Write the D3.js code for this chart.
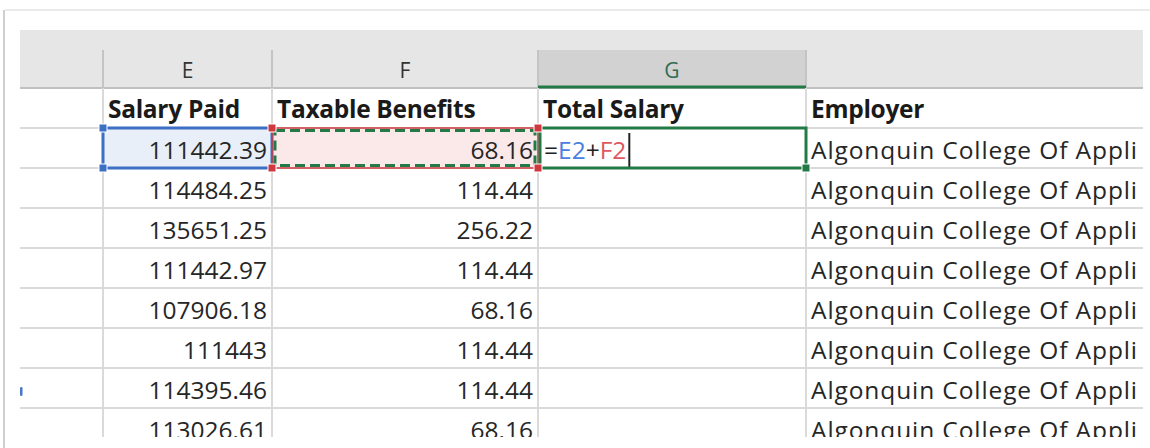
<!DOCTYPE html>
<html lang="en">
<head>
<meta charset="utf-8">
<title>Salary sheet</title>
<script src="https://cdn.jsdelivr.net/npm/d3@7"></script>
<style>
  body { margin: 0; background: #fff; }
  svg { display: block; font-family: "Open Sans", Lato, sans-serif; }
  .hdr { font-weight: bold; }
</style>
</head>
<body>
<script>
// sheet contents
var columnLetters = ["", "E", "F", "G", ""];
var headers = ["Salary Paid", "Taxable Benefits", "Total Salary", "Employer"];
var salaryPaid = [111442.39, 114484.25, 135651.25, 111442.97, 107906.18, 111443, 114395.46, 113026.61];
var taxableBenefits = [68.16, 114.44, 256.22, 114.44, 68.16, 114.44, 114.44, 68.16];
var employer = "Algonquin College Of Appli";
var formulaParts = ["=", "E2", "+", "F2"];

var W = 1150, H = 448;
var colKeys = ["row", "E", "F", "G", "H"];
var colWidths = [83, 169, 266, 268, 337];
var edges = [20].concat(Array.from(d3.cumsum(colWidths), function(d) { return d + 20; }));

var x = d3.scaleOrdinal().domain(colKeys).range(edges);
function xr(k) { return edges[colKeys.indexOf(k) + 1]; }
var y = d3.scaleBand().domain(d3.range(9)).range([88, 448]);
var headTop = 50, headBottom = 88, clipBottom = 437, right = xr("H");
var fs = 24.5;

var grid = "#dadada", ink = "#262626";
var blue = "#3d6fc4", red = "#d0383f", green = "#237a47";

var svg = d3.select("body").append("svg").attr("width", W).attr("height", H);

// window frame
svg.append("line").attr("x1", 5).attr("x2", W).attr("y1", 10).attr("y2", 10)
  .attr("stroke", "#ebebeb").attr("stroke-width", 2);
svg.append("line").attr("x1", 4).attr("x2", 4).attr("y1", 10).attr("y2", H)
  .attr("stroke", "#cfcfcf").attr("stroke-width", 2);

svg.append("clipPath").attr("id", "sheet").append("rect")
  .attr("x", 20).attr("y", 0).attr("width", right - 20).attr("height", clipBottom);
var g = svg.append("g").attr("clip-path", "url(#sheet)");

// column header band
g.append("rect").attr("x", 20).attr("y", 30).attr("width", right - 20).attr("height", headBottom - 30)
  .attr("fill", "#e6e6e6");
g.append("rect").attr("x", x("G")).attr("y", headTop).attr("width", xr("G") - x("G")).attr("height", headBottom - headTop)
  .attr("fill", "#d2d2d2");
g.selectAll(".csep").data(colKeys.slice(1)).enter().append("line")
  .attr("x1", function(d) { return x(d); }).attr("x2", function(d) { return x(d); })
  .attr("y1", headTop).attr("y2", headBottom)
  .attr("stroke", "#c4c4c4").attr("stroke-width", 2);
g.append("line").attr("x1", 20).attr("x2", right).attr("y1", headBottom).attr("y2", headBottom)
  .attr("stroke", "#c0c0c0").attr("stroke-width", 2);
g.append("line").attr("x1", x("G")).attr("x2", xr("G")).attr("y1", headBottom - 1).attr("y2", headBottom - 1)
  .attr("stroke", green).attr("stroke-width", 3);
g.selectAll(".clet").data(colKeys).enter().append("text")
  .attr("x", function(d, i) { return (x(d) + xr(d)) / 2; })
  .attr("y", 78).attr("text-anchor", "middle")
  .attr("font-size", 21).attr("fill", function(d) { return d === "G" ? "#2f6b55" : "#333"; })
  .text(function(d, i) { return columnLetters[i]; });

// selection fills
var r2 = y(1), rh = y.bandwidth();
g.append("rect").attr("x", x("E")).attr("y", r2).attr("width", xr("E") - x("E")).attr("height", rh).attr("fill", "#e8eff9");
g.append("rect").attr("x", x("F")).attr("y", r2).attr("width", xr("F") - x("F")).attr("height", rh).attr("fill", "#fbe8e8");

// gridlines
g.selectAll(".hline").data(d3.range(1, 9)).enter().append("line")
  .attr("x1", 20).attr("x2", right)
  .attr("y1", function(d) { return y(d); })
  .attr("y2", function(d) { return y(d); })
  .attr("stroke", grid).attr("stroke-width", 2);
g.selectAll(".vline").data(["E", "F", "G", "H"]).enter().append("line")
  .attr("x1", function(d) { return x(d); }).attr("x2", function(d) { return x(d); })
  .attr("y1", headBottom).attr("y2", clipBottom)
  .attr("stroke", grid).attr("stroke-width", 2);

// header row
var hdrKeys = ["E", "F", "G", "H"];
g.selectAll(".hdr").data(headers).enter().append("text").attr("class", "hdr")
  .attr("x", function(d, i) { return x(hdrKeys[i]) + 5; })
  .attr("y", y(0) + 30).attr("font-size", fs).attr("fill", "#1a1a1a")
  .attr("letter-spacing", -0.3)
  .text(function(d) { return d; });

// values
g.selectAll(".sal").data(salaryPaid).enter().append("text")
  .attr("x", xr("E") - 5).attr("y", function(d, i) { return y(i + 1) + 31; })
  .attr("text-anchor", "end").attr("font-size", fs).attr("fill", ink)
  .text(function(d) { return String(d); });
g.selectAll(".ben").data(taxableBenefits).enter().append("text")
  .attr("x", xr("F") - 5).attr("y", function(d, i) { return y(i + 1) + 31; })
  .attr("text-anchor", "end").attr("font-size", fs).attr("fill", ink)
  .text(function(d) { return String(d); });
g.selectAll(".emp").data(salaryPaid).enter().append("text")
  .attr("x", x("H") + 5).attr("y", function(d, i) { return y(i + 1) + 31; })
  .attr("font-size", fs).attr("fill", ink).attr("letter-spacing", 0.9)
  .text(employer);

// formula being typed in G2
var ft = g.append("text").attr("x", x("G") + 6).attr("y", r2 + 31).attr("font-size", fs);
var fColors = ["#222", "#4a80e0", "#222", "#e0575f"];
ft.selectAll("tspan").data(formulaParts).enter().append("tspan")
  .attr("fill", function(d, i) { return fColors[i]; })
  .text(function(d) { return d; });
var fw = ft.node().getComputedTextLength();
g.append("line").attr("x1", x("G") + 9 + fw).attr("x2", x("G") + 9 + fw)
  .attr("y1", r2 + 5).attr("y2", r2 + rh).attr("stroke", "#222").attr("stroke-width", 2);

// E2 range outline (blue)
g.append("rect").attr("x", x("E")).attr("y", r2).attr("width", xr("E") - x("E")).attr("height", rh)
  .attr("fill", "none").attr("stroke", blue).attr("stroke-width", 3);

// F2 range outline (red) with marching ants
g.append("rect").attr("x", x("F")).attr("y", r2).attr("width", xr("F") - x("F")).attr("height", rh)
  .attr("fill", "none").attr("stroke", red).attr("stroke-width", 1.5);
g.append("rect").attr("x", x("F") + 3).attr("y", r2 + 2.5).attr("width", xr("F") - x("F") - 6).attr("height", rh - 5)
  .attr("fill", "none").attr("stroke", green).attr("stroke-width", 3).attr("stroke-dasharray", "10,5");

// active cell G2
g.append("rect").attr("x", x("G") + 2).attr("y", r2).attr("width", xr("G") - x("G") - 2).attr("height", rh)
  .attr("fill", "none").attr("stroke", green).attr("stroke-width", 3);

// corner handles
var handles = [
  [x("E"), r2, blue], [x("E"), r2 + rh, blue],
  [x("F"), r2, red], [x("F"), r2 + rh, red],
  [xr("F"), r2, red], [xr("F"), r2 + rh, red],
  [xr("G"), r2 + rh, green]
];
g.selectAll(".handle").data(handles).enter().append("rect")
  .attr("x", function(d) { return d[0] - 4; }).attr("y", function(d) { return d[1] - 4; })
  .attr("width", 8).attr("height", 8)
  .attr("fill", function(d) { return d[2]; }).attr("stroke", "#fff").attr("stroke-width", 1);

// stray blue mark in row header
svg.append("rect").attr("x", 20).attr("y", 387).attr("width", 2.5).attr("height", 9).attr("rx", 1.2).attr("fill", "#4a78c8");
</script>
</body>
</html>
